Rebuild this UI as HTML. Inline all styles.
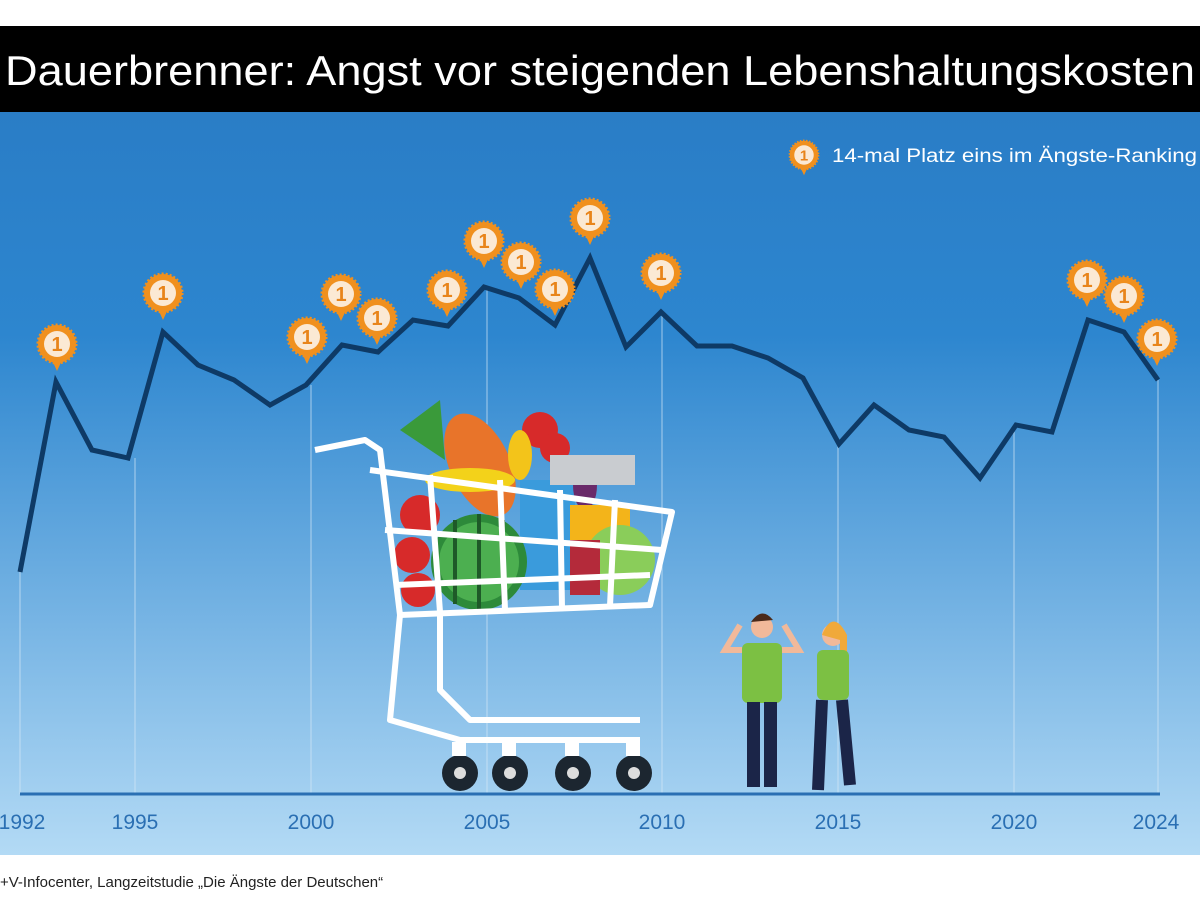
<!DOCTYPE html>
<html><head><meta charset="utf-8"><style>
body{margin:0;width:1200px;height:900px;background:#fff;overflow:hidden;font-family:"Liberation Sans",sans-serif}
</style></head><body>
<svg width="1200" height="900" xmlns="http://www.w3.org/2000/svg" style="display:block">
<defs>
<linearGradient id="bg" x1="0" y1="0" x2="0" y2="1">
<stop offset="0" stop-color="#2a7dc6"/>
<stop offset="0.3" stop-color="#2d86cf"/>
<stop offset="1" stop-color="#b3daf5"/>
</linearGradient>
<g id="b">
<path d="M-6,14 L0,27 L6,14 Z" fill="#f0901e"/>
<circle r="19" fill="#f0901e" stroke="#f0901e" stroke-width="3" stroke-dasharray="2 2"/>
<circle r="13" fill="#fbe9d4"/>
<text y="7" text-anchor="middle" font-size="20" font-weight="bold" fill="#e8841a" font-family="Liberation Sans,sans-serif">1</text>
</g>
</defs>
<rect x="0" y="26" width="1200" height="86" fill="#000"/>
<text x="5" y="85" font-size="42" fill="#fff" textLength="1190" lengthAdjust="spacingAndGlyphs">Dauerbrenner: Angst vor steigenden Lebenshaltungskosten</text>
<rect x="0" y="112" width="1200" height="743" fill="url(#bg)"/>
<g stroke="#d5e8f7" stroke-width="1" opacity="0.7">
<line x1="20" y1="572" x2="20" y2="794"/><line x1="135" y1="458" x2="135" y2="794"/>
<line x1="311" y1="385" x2="311" y2="794"/><line x1="487" y1="287" x2="487" y2="794"/>
<line x1="662" y1="312" x2="662" y2="794"/><line x1="838" y1="444" x2="838" y2="794"/>
<line x1="1014" y1="425" x2="1014" y2="794"/><line x1="1158" y1="380" x2="1158" y2="794"/>
</g>
<line x1="20" y1="794" x2="1160" y2="794" stroke="#2a6fb3" stroke-width="3"/>
<g font-size="21" fill="#2a6fb3" text-anchor="middle">
<text x="22" y="829">1992</text><text x="135" y="829">1995</text><text x="311" y="829">2000</text>
<text x="487" y="829">2005</text><text x="662" y="829">2010</text><text x="838" y="829">2015</text>
<text x="1014" y="829">2020</text><text x="1156" y="829">2024</text>
</g>
<polyline fill="none" stroke="#0e3a66" stroke-width="5" stroke-linejoin="miter" points="20,572 56,382 92,450 128,458 163,332 198,365 234,380 270,405 306,385 342,345 378,352 413,320 448,326 484,287 519,298 555,325 590,258 626,347 661,312 697,346 732,346 768,358 803,378 839,444 874,405 909,430 944,437 980,478 1016,425 1052,432 1088,320 1124,332 1158,380"/>
<use href="#b" x="57" y="344"/><use href="#b" x="163" y="293"/><use href="#b" x="307" y="337"/>
<use href="#b" x="341" y="294"/><use href="#b" x="377" y="318"/><use href="#b" x="447" y="290"/>
<use href="#b" x="484" y="241"/><use href="#b" x="521" y="262"/><use href="#b" x="555" y="289"/>
<use href="#b" x="590" y="218"/><use href="#b" x="661" y="273"/><use href="#b" x="1087" y="280"/>
<use href="#b" x="1124" y="296"/><use href="#b" x="1157" y="339"/>
<g transform="translate(804,155) scale(0.75)"><use href="#b"/></g>
<text x="832" y="162" font-size="19" fill="#fff" textLength="365" lengthAdjust="spacingAndGlyphs">14-mal Platz eins im Ängste-Ranking</text>
<g>
<circle cx="420" cy="515" r="20" fill="#d72a2a"/><circle cx="412" cy="555" r="18" fill="#d72a2a"/><circle cx="418" cy="590" r="17" fill="#d72a2a"/>
<path d="M400,430 L440,400 L445,460 Z" fill="#3a9a3a"/>
<ellipse cx="480" cy="465" rx="30" ry="55" fill="#e8742a" transform="rotate(-25 480 465)"/>
<rect x="520" y="480" width="55" height="110" fill="#3a9bdc"/>
<circle cx="540" cy="430" r="18" fill="#d72a2a"/><circle cx="555" cy="448" r="15" fill="#d72a2a"/>
<ellipse cx="520" cy="455" rx="12" ry="25" fill="#f3c41a"/>
<ellipse cx="585" cy="485" rx="12" ry="25" fill="#6a2a6a"/>
<rect x="550" y="455" width="85" height="30" fill="#c9ccd0"/>
<rect x="570" y="505" width="60" height="40" fill="#f3b41a"/>
<circle cx="620" cy="560" r="35" fill="#8acd5a"/>
<rect x="570" y="540" width="30" height="55" fill="#b42a3a"/>
<ellipse cx="470" cy="480" rx="45" ry="12" fill="#f3d21a"/>
<circle cx="479" cy="562" r="48" fill="#2d8a3a"/>
<circle cx="479" cy="562" r="40" fill="#4caf50"/>
<line x1="479" y1="514" x2="479" y2="610" stroke="#1e5a28" stroke-width="4"/>
<line x1="455" y1="520" x2="455" y2="604" stroke="#1e5a28" stroke-width="4"/>
<line x1="503" y1="520" x2="503" y2="604" stroke="#1e5a28" stroke-width="4"/>
</g>
<g fill="none" stroke="#fff" stroke-width="6" stroke-linejoin="round">
<path d="M315,450 L365,440 L380,450 L400,615 L650,605 L672,512 L370,470"/>
<path d="M385,530 L662,550 M395,585 L650,575"/>
<path d="M430,475 L440,612 M500,480 L505,610 M560,490 L562,608 M615,500 L610,606"/>
<path d="M400,615 L390,720 L460,740 L640,740 M440,615 L440,690 L470,720 L640,720"/>
</g>
<g fill="#1c2630"><circle cx="460" cy="773" r="18"/><circle cx="510" cy="773" r="18"/><circle cx="573" cy="773" r="18"/><circle cx="634" cy="773" r="18"/></g>
<g fill="#ddd"><circle cx="460" cy="773" r="6"/><circle cx="510" cy="773" r="6"/><circle cx="573" cy="773" r="6"/><circle cx="634" cy="773" r="6"/></g>
<g fill="#fff"><rect x="452" y="742" width="14" height="14"/><rect x="502" y="742" width="14" height="14"/><rect x="565" y="742" width="14" height="14"/><rect x="626" y="742" width="14" height="14"/></g>
<g>
<circle cx="762" cy="627" r="11" fill="#f1b99a"/><path d="M751,622 Q762,606 773,620 Z" fill="#4a2a1a"/>
<rect x="742" y="643" width="40" height="60" rx="6" fill="#7cc043"/>
<path d="M742,650 L725,650 L740,625 M782,650 L799,650 L784,625" stroke="#f1b99a" stroke-width="6" fill="none"/>
<rect x="747" y="702" width="13" height="85" fill="#1b2548"/><rect x="764" y="702" width="13" height="85" fill="#1b2548"/>
<circle cx="833" cy="635" r="11" fill="#f1b99a"/><path d="M822,635 Q833,608 847,635 L847,660 L840,660 L840,640 Z" fill="#f0a93a"/>
<rect x="817" y="650" width="32" height="50" rx="6" fill="#7cc043"/>
<path d="M822,700 L818,790 M842,700 L850,785" stroke="#1b2548" stroke-width="12" fill="none"/>
</g>
<text x="0" y="887" font-size="15" fill="#222">+V-Infocenter, Langzeitstudie „Die Ängste der Deutschen“</text>
</svg>
</body></html>
